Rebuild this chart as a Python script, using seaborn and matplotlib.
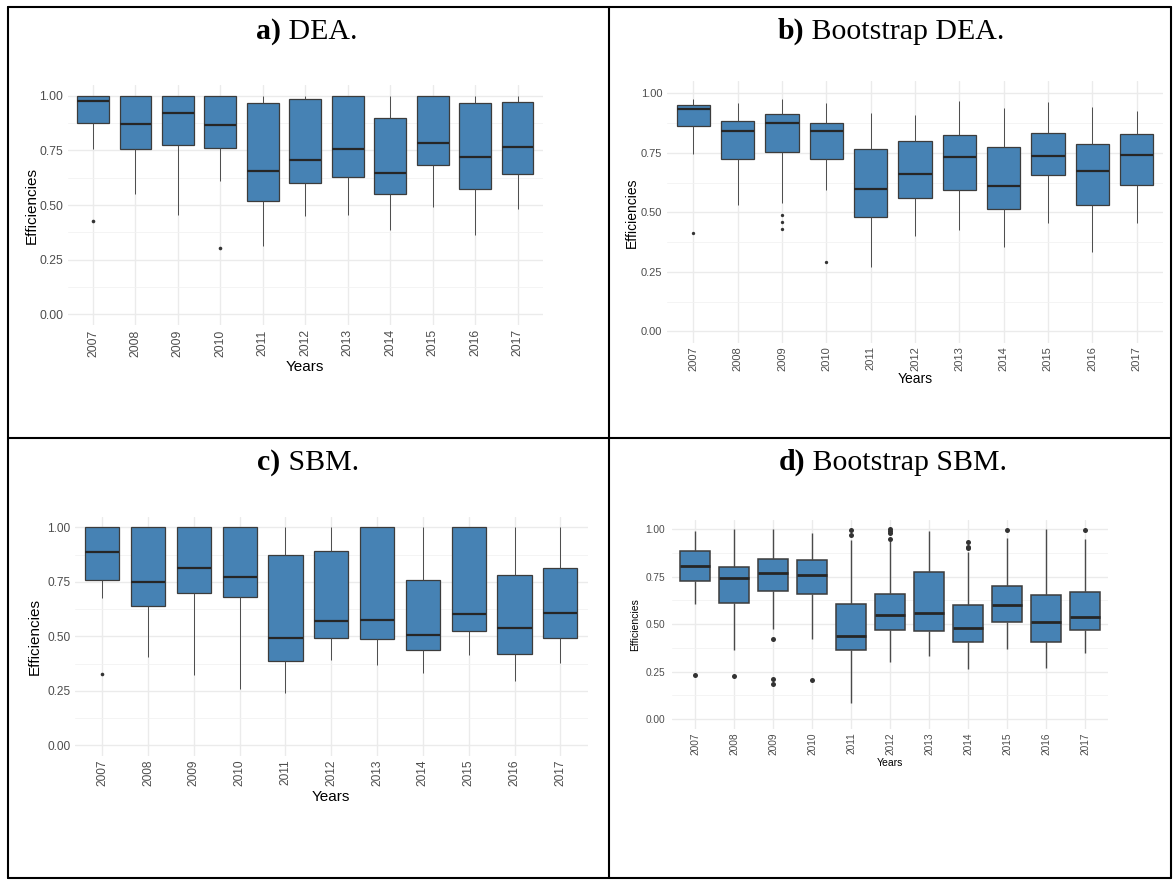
import numpy as np
import pandas as pd
import matplotlib
matplotlib.use("Agg")
import matplotlib.pyplot as plt
from matplotlib.lines import Line2D
from matplotlib.ticker import FixedLocator, FormatStrFormatter
import seaborn as sns

YEARS = [str(y) for y in range(2007, 2018)]

# ---- a) DEA: five-number summaries per year plus outliers ----
DEA_LO = [0.756, 0.552, 0.454, 0.611, 0.314, 0.450, 0.456, 0.384, 0.489, 0.361, 0.483]
DEA_Q1 = [0.877, 0.755, 0.776, 0.759, 0.520, 0.599, 0.628, 0.552, 0.681, 0.573, 0.643]
DEA_MED = [0.977, 0.869, 0.921, 0.867, 0.657, 0.706, 0.756, 0.648, 0.785, 0.720, 0.765]
DEA_Q3 = [1.000, 1.000, 1.000, 1.000, 0.966, 0.983, 1.000, 0.898, 1.000, 0.965, 0.970]
DEA_HI = [1.000, 1.000, 1.000, 1.000, 1.000, 1.000, 1.000, 1.000, 1.000, 1.000, 1.000]
DEA_OUT = [[0.427], [], [], [0.305], [], [], [], [], [], [], []]

# ---- b) Bootstrap DEA ----
BDEA_LO = [0.744, 0.531, 0.541, 0.595, 0.272, 0.402, 0.427, 0.356, 0.457, 0.332, 0.457]
BDEA_Q1 = [0.861, 0.723, 0.752, 0.723, 0.482, 0.559, 0.592, 0.515, 0.655, 0.532, 0.613]
BDEA_MED = [0.934, 0.843, 0.874, 0.842, 0.599, 0.662, 0.731, 0.609, 0.738, 0.672, 0.741]
BDEA_Q3 = [0.951, 0.885, 0.913, 0.877, 0.766, 0.798, 0.824, 0.773, 0.832, 0.786, 0.829]
BDEA_HI = [0.975, 0.961, 0.978, 0.959, 0.916, 0.909, 0.969, 0.940, 0.962, 0.941, 0.927]
BDEA_OUT = [[0.415], [], [0.490, 0.461, 0.429], [0.291], [], [], [], [], [], [], []]

# ---- c) SBM ----
SBM_LO = [0.674, 0.407, 0.323, 0.260, 0.242, 0.393, 0.367, 0.333, 0.416, 0.295, 0.379]
SBM_Q1 = [0.760, 0.639, 0.699, 0.680, 0.387, 0.492, 0.488, 0.436, 0.523, 0.419, 0.492]
SBM_MED = [0.887, 0.748, 0.813, 0.771, 0.491, 0.569, 0.576, 0.506, 0.601, 0.537, 0.609]
SBM_Q3 = [1.000, 1.000, 1.000, 1.000, 0.873, 0.893, 1.000, 0.757, 1.000, 0.781, 0.812]
SBM_HI = [1.000, 1.000, 1.000, 1.000, 1.000, 1.000, 1.000, 1.000, 1.000, 1.000, 1.000]
SBM_OUT = [[0.329], [], [], [], [], [], [], [], [], [], []]

# ---- d) Bootstrap SBM ----
BSBM_LO = [0.607, 0.363, 0.472, 0.423, 0.085, 0.301, 0.331, 0.261, 0.370, 0.268, 0.349]
BSBM_Q1 = [0.729, 0.613, 0.677, 0.661, 0.366, 0.467, 0.464, 0.408, 0.510, 0.404, 0.467]
BSBM_MED = [0.805, 0.743, 0.767, 0.761, 0.437, 0.546, 0.558, 0.478, 0.601, 0.512, 0.537]
BSBM_Q3 = [0.884, 0.801, 0.844, 0.839, 0.604, 0.657, 0.773, 0.601, 0.700, 0.653, 0.672]
BSBM_HI = [0.993, 1.000, 1.000, 0.980, 0.944, 0.936, 0.989, 0.880, 0.955, 1.000, 0.948]
BSBM_OUT = [[0.231], [0.225], [0.422, 0.213, 0.183], [0.204], [0.995, 0.970],
            [1.000, 0.990, 0.980, 0.949], [], [0.934, 0.908, 0.899], [0.998], [], [0.998]]

TITLES = [("a)", " DEA."), ("b)", " Bootstrap DEA."), ("c)", " SBM."), ("d)", " Bootstrap SBM.")]

W, H = 1174, 880
STEEL = "#4682B4"
EDGE = "#333333"
TICK_COLOR = "#4D4D4D"
SANS = "Liberation Sans"
SERIF = "Liberation Serif"

sns.set_theme(style="white")
plt.rcParams["font.family"] = [SANS, "DejaVu Sans"]

fig = plt.figure(figsize=(W / 100, H / 100), dpi=100)
fig.patch.set_facecolor("white")


def px_rect(left, top, right, bottom):
    return [left / W, 1 - bottom / H, (right - left) / W, (bottom - top) / H]


def box_sample(lo, q1, med, q3, hi, outs, reps=20):
    """Expand a five-number summary into values whose quartiles reproduce it."""
    low = sorted(o for o in outs if o < q1)
    high = sorted(o for o in outs if o > q3)
    return low + [lo] + [q1] * reps + [med] * reps + [q3] * reps + [hi] + high


def draw_panel(rect, lo, q1, med, q3, hi, outs, tick_fs, label_fs, flier_ms,
               lw, med_lw, wh_lw, xlabel_y, ylabel_x, xpad, ypad):
    ax = fig.add_axes(px_rect(*rect))
    rows = []
    for year, a, b, c, d, e, o in zip(YEARS, lo, q1, med, q3, hi, outs):
        for v in box_sample(a, b, c, d, e, o):
            rows.append((year, v))
    df = pd.DataFrame(rows, columns=["Years", "Efficiencies"])

    sns.boxplot(
        data=df, x="Years", y="Efficiencies", order=YEARS, ax=ax,
        color=STEEL, saturation=1, width=0.75, whis=1.5,
        linecolor=EDGE, linewidth=lw, showcaps=False,
        medianprops=dict(color="#262626", linewidth=med_lw),
        whiskerprops=dict(color="#4a4a4a", linewidth=wh_lw),
        boxprops=dict(edgecolor="#3c3c3c", linewidth=lw),
        flierprops=dict(marker="o", markersize=flier_ms, markerfacecolor=EDGE,
                        markeredgecolor=EDGE, markeredgewidth=0),
    )

    ax.set_xlim(-0.6, 10.6)
    ax.set_ylim(-0.05, 1.05)
    ax.set_facecolor("white")
    for s in ax.spines.values():
        s.set_visible(False)

    ax.yaxis.set_major_locator(FixedLocator([0.0, 0.25, 0.5, 0.75, 1.0]))
    ax.yaxis.set_minor_locator(FixedLocator([0.125, 0.375, 0.625, 0.875]))
    ax.yaxis.set_major_formatter(FormatStrFormatter("%.2f"))
    ax.set_axisbelow(True)
    ax.grid(which="major", axis="both", color="#EBEBEB", linewidth=1.0)
    ax.grid(which="minor", axis="y", color="#F2F2F2", linewidth=0.6)

    ax.tick_params(axis="both", which="both", length=0)
    ax.tick_params(axis="x", pad=xpad, labelsize=tick_fs, labelcolor=TICK_COLOR,
                   labelrotation=90)
    ax.tick_params(axis="y", pad=ypad, labelsize=tick_fs, labelcolor=TICK_COLOR)

    ax.set_xlabel("Years", fontsize=label_fs, color="black")
    ax.set_ylabel("Efficiencies", fontsize=label_fs, color="black")
    ax.xaxis.set_label_coords(0.5, xlabel_y)
    ax.xaxis.label.set_verticalalignment("center")
    ax.yaxis.set_label_coords(ylabel_x, 0.5)
    ax.yaxis.label.set_verticalalignment("center")
    return ax


draw_panel((67.5, 84.8, 543.0, 325.2), DEA_LO, DEA_Q1, DEA_MED, DEA_Q3, DEA_HI, DEA_OUT,
           tick_fs=8.8, label_fs=11, flier_ms=2.6, lw=0.9, med_lw=1.6, wh_lw=0.7,
           xlabel_y=-0.172, ylabel_x=-0.0757, xpad=3.0, ypad=3.2)
draw_panel((666.9, 81.4, 1163.1, 343.4), BDEA_LO, BDEA_Q1, BDEA_MED, BDEA_Q3, BDEA_HI, BDEA_OUT,
           tick_fs=8.0, label_fs=10, flier_ms=2.4, lw=0.9, med_lw=1.6, wh_lw=0.7,
           xlabel_y=-0.135, ylabel_x=-0.0703, xpad=2.0, ypad=3.2)
draw_panel((74.8, 516.6, 587.8, 756.2), SBM_LO, SBM_Q1, SBM_MED, SBM_Q3, SBM_HI, SBM_OUT,
           tick_fs=8.6, label_fs=11, flier_ms=2.6, lw=0.9, med_lw=1.6, wh_lw=0.7,
           xlabel_y=-0.169, ylabel_x=-0.0776, xpad=2.3, ypad=3.0)
draw_panel((671.6, 519.8, 1108.4, 728.5), BSBM_LO, BSBM_Q1, BSBM_MED, BSBM_Q3, BSBM_HI, BSBM_OUT,
           tick_fs=7.3, label_fs=7.5, flier_ms=3.6, lw=1.1, med_lw=2.0, wh_lw=1.0,
           xlabel_y=-0.165, ylabel_x=-0.0826, xpad=3.0, ypad=4.5)

# ---- table frame ----
LINE_W = 1.5
for x in (8, 609, 1171):
    fig.add_artist(Line2D([x / W, x / W], [1 - 7 / H, 1 - 878 / H], color="black",
                          linewidth=LINE_W, transform=fig.transFigure))
for y in (7, 438, 878):
    fig.add_artist(Line2D([8 / W, 1171 / W], [1 - y / H, 1 - y / H], color="black",
                          linewidth=LINE_W, transform=fig.transFigure))

# ---- cell titles: bold letter followed by regular text, centred in each cell ----
renderer = fig.canvas.get_renderer()
title_pos = [(307, 39), (891, 39), (308, 470), (893, 470)]
for (bold, rest), (cx, by) in zip(TITLES, title_pos):
    t1 = fig.text(0, 1 - by / H, bold, fontsize=21.5, fontweight="bold",
                  family=SERIF, va="baseline", ha="left", color="black")
    t2 = fig.text(0, 1 - by / H, rest, fontsize=21.5, family=SERIF,
                  va="baseline", ha="left", color="black")
    w1 = t1.get_window_extent(renderer).width
    w2 = t2.get_window_extent(renderer).width
    start = cx - (w1 + w2) / 2
    t1.set_x(start / W)
    t2.set_x((start + w1) / W)

fig.savefig("out.png", dpi=100, facecolor="white")
